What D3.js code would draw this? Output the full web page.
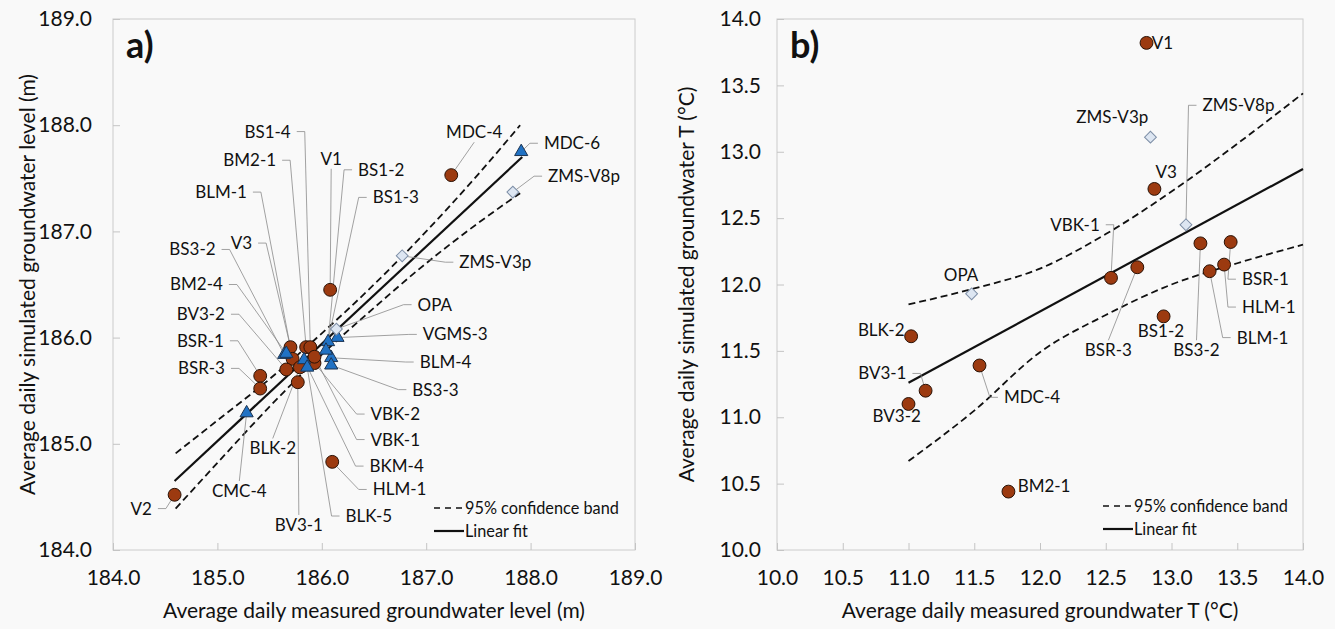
<!DOCTYPE html>
<html>
<head>
<meta charset="utf-8">
<script src="https://cdn.jsdelivr.net/npm/d3@7"></script>
<style>
  body { margin: 0; background: #f9f9f9; }
  svg { display: block; font-family: Lato, "Open Sans", sans-serif; }
</style>
</head>
<body>
<svg id="chart" width="1335" height="629"></svg>
<script>
// ---- panel a: groundwater level ----
const wellsA = ["MDC-4","V1","HLM-1","V2","BSR-1","BSR-3","V3","BM2-1","BS1-4","BLM-1","BV3-2","BLK-2","BV3-1","VBK-2","VBK-1",
                "MDC-6","VGMS-3","BLM-4","BS3-3","BS1-2","BS1-3","BS3-2","BKM-4","BLK-5","CMC-4","BM2-4",
                "ZMS-V3p","ZMS-V8p","OPA"];
const typeA = ["c","c","c","c","c","c","c","c","c","c","c","c","c","c","c",
               "t","t","t","t","t","t","t","t","t","t","t",
               "d","d","d"];
const measA = [187.24,186.08,186.10,184.59,185.41,185.41,185.70,185.85,185.89,185.72,185.66,185.79,185.77,185.93,185.93,
               187.91,186.15,186.09,186.09,186.06,186.04,185.64,185.83,185.86,185.28,185.66,
               186.77,187.83,186.14];
const simA  = [187.53,186.45,184.83,184.52,185.64,185.52,185.91,185.91,185.91,185.80,185.70,185.72,185.58,185.76,185.82,
               187.75,186.00,185.81,185.74,185.96,185.88,185.84,185.79,185.72,185.29,185.85,
               186.77,187.37,186.08];
const fitXA = [184.59, 187.92];
const fitYA = [184.65, 187.70];
const bandXA  = [184.6, 185.0, 185.5, 186.0, 186.5, 187.0, 187.5, 187.9];
const bandUpA = [184.91,185.22,185.61,186.04,186.50,187.00,187.54,188.00];
const bandLoA = [184.39,184.82,185.35,185.84,186.28,186.70,187.08,187.36];
const ticksA = [184,185,186,187,188,189];

// ---- panel b: groundwater temperature ----
const wellsB = ["V1","ZMS-V3p","V3","ZMS-V8p","BS3-2","BSR-1","HLM-1","BLM-1","BSR-3","VBK-1","BS1-2","OPA","BLK-2","MDC-4","BV3-1","BV3-2","BM2-1"];
const typeB  = ["c","d","c","d","c","c","c","c","c","c","c","d","c","c","c","c","c"];
const measB  = [12.81,12.84,12.87,13.11,13.22,13.45,13.40,13.29,12.74,12.54,12.94,11.48,11.02,11.54,11.13,11.00,11.76];
const simB   = [13.82,13.11,12.72,12.45,12.31,12.32,12.15,12.10,12.13,12.05,11.76,11.93,11.61,11.39,11.20,11.10,10.44];
const fitXB = [11.0, 14.0];
const fitYB = [11.26, 12.87];
const bandXB  = [11.0, 11.5, 12.0, 12.5, 13.0, 13.5, 14.0];
const bandUpB = [11.85,11.97,12.12,12.38,12.70,13.06,13.44];
const bandLoB = [10.67,11.05,11.49,11.77,12.00,12.16,12.30];
const ticksB = [10,10.5,11,11.5,12,12.5,13,13.5,14];

// label placement (data units): [x, y, side, has leader]
const labelPosA = [
  [187.46,187.84,"T",1],[186.09,187.59,"T",1],[186.43,184.57,"R",1],[184.43,184.39,"L",1],[185.12,185.97,"L",1],
  [185.13,185.71,"L",1],[185.39,186.89,"L",1],[185.62,187.67,"L",1],[185.76,187.94,"L",1],[185.34,187.37,"L",1],
  [185.13,186.22,"L",1],[185.53,185.05,"B",1],[185.78,184.33,"B",1],[186.41,185.28,"R",1],[186.41,185.04,"R",1],
  [188.07,187.83,"R",1],[186.91,186.03,"R",1],[186.88,185.77,"R",1],[186.81,185.51,"R",1],[186.29,187.58,"R",1],
  [186.43,187.32,"R",1],[185.04,186.83,"L",1],[186.40,184.79,"R",1],[186.17,184.32,"R",1],[185.21,184.65,"B",1],
  [185.11,186.50,"L",1],[187.26,186.71,"R",1],[188.11,187.52,"R",1],[186.86,186.31,"R",1]
];
const labelPosB = [
  [12.85,13.82,"R",0],[12.55,13.26,"C",0],[12.96,12.85,"C",0],[13.19,13.35,"R",1],[13.19,11.58,"B",1],
  [13.49,12.04,"R",1],[13.49,11.83,"R",1],[13.45,11.60,"R",1],[12.52,11.58,"B",1],[12.50,12.45,"L",1],
  [12.92,11.65,"C",0],[11.40,12.07,"C",0],[10.97,11.66,"L",0],[11.68,11.15,"R",1],[11.03,11.33,"L",1],
  [10.91,11.01,"C",0],[11.83,10.48,"R",0]
];

const svg = d3.select("#chart");
svg.append("rect").attr("width",1335).attr("height",629).attr("fill","#f9f9f9");

function drawPanel(o) {
  const x = d3.scaleLinear().domain(o.xDomain).range([o.left, o.right]);
  const y = d3.scaleLinear().domain(o.yDomain).range([o.bottom, o.top]);
  const g = svg.append("g");
  const fmt = d3.format(".1f");

  g.append("rect")
    .attr("x", o.left).attr("y", o.top)
    .attr("width", o.right - o.left).attr("height", o.bottom - o.top)
    .attr("fill", "#f9f9f9").attr("stroke", "#cccccc");

  const xAxis = g.append("g").attr("transform", `translate(0,${o.bottom})`)
    .call(d3.axisBottom(x).tickValues(o.ticksX).tickFormat(fmt).tickSizeInner(-7).tickSizeOuter(0).tickPadding(20));
  const yAxis = g.append("g").attr("transform", `translate(${o.left},0)`)
    .call(d3.axisLeft(y).tickValues(o.ticksY).tickFormat(fmt).tickSizeInner(-7).tickSizeOuter(0).tickPadding(o.yPad));
  [xAxis, yAxis].forEach(a => {
    a.select(".domain").remove();
    a.selectAll(".tick line").attr("stroke", "#c4c4c4");
    a.selectAll(".tick text").attr("fill", "#111").style("font-size", "21px").style("font-family", "Lato");
  });

  // axis titles
  g.append("text").attr("x", (o.left + o.right) / 2).attr("y", 618)
    .attr("text-anchor", "middle").style("font-size", "21px").attr("fill", "#111").text(o.xTitle);
  g.append("text").attr("transform", `translate(${o.yTitleX},${(o.top + o.bottom) / 2}) rotate(-90)`)
    .attr("text-anchor", "middle").style("font-size", "21px").attr("fill", "#111").text(o.yTitle);

  // panel letter
  g.append("text").attr("x", o.left + 13).attr("y", 58)
    .style("font-size", "36px").style("font-weight", "bold").attr("fill", "#111").text(o.letter);

  // confidence band and fit
  const line = d3.line().x(d => x(d[0])).y(d => y(d[1])).curve(d3.curveMonotoneX);
  [o.bandUp, o.bandLo].forEach(b => {
    g.append("path").datum(o.bandX.map((v, i) => [v, b[i]]))
      .attr("d", line).attr("fill", "none").attr("stroke", "#111")
      .attr("stroke-width", 1.8).attr("stroke-dasharray", "7,4");
  });
  g.append("path").datum(o.fitX.map((v, i) => [v, o.fitY[i]]))
    .attr("d", d3.line().x(d => x(d[0])).y(d => y(d[1])))
    .attr("fill", "none").attr("stroke", "#111").attr("stroke-width", 2.2);

  // labels and leader lines
  const pts = o.names.map((n, i) => ({ n, px: x(o.meas[i]), py: y(o.sim[i]), t: o.types[i], lab: o.labels[i] }));
  pts.forEach(p => {
    const [lx, ly, side, leader] = p.lab;
    const X = x(lx), Y = y(ly);
    const gap = leader ? 6 : 0;
    const t = g.append("text").style("font-size", "17px").attr("fill", "#111").text(p.n);
    if (side === "L") t.attr("x", X - gap).attr("y", Y).attr("dy", "0.35em").attr("text-anchor", "end");
    if (side === "R") t.attr("x", X + gap).attr("y", Y).attr("dy", "0.35em").attr("text-anchor", "start");
    if (side === "T") t.attr("x", X).attr("y", Y - 4).attr("text-anchor", "middle");
    if (side === "B") t.attr("x", X).attr("y", Y + 3).attr("dy", "0.75em").attr("text-anchor", "middle");
    if (side === "C") t.attr("x", X).attr("y", Y).attr("dy", "0.35em").attr("text-anchor", "middle");
    if (leader) {
      let path = [[X, Y]];
      if (side === "L") path.push([X + 8, Y]);
      if (side === "R") path.push([X - 8, Y]);
      path.push([p.px, p.py]);
      g.append("path").attr("d", d3.line()(path)).attr("fill", "none")
        .attr("stroke", "#8a8a8a").attr("stroke-width", 0.8);
    }
  });

  // markers
  const sym = { c: d3.symbol(d3.symbolCircle, 130), t: d3.symbol(d3.symbolTriangle, 75), d: d3.symbol(d3.symbolSquare, 70) };
  const fill = { c: "#9c3a10", t: "#2172c4", d: "#dde6f2" };
  const stroke = { c: "#2a1206", t: "#1c3350", d: "#7d8ea6" };
  pts.forEach(p => {
    g.append("path").attr("d", sym[p.t]())
      .attr("transform", `translate(${p.px},${p.py})` + (p.t === "d" ? " rotate(45)" : ""))
      .attr("fill", fill[p.t]).attr("stroke", stroke[p.t]).attr("stroke-width", 1);
  });

  // legend
  const lg = g.append("g").attr("transform", `translate(${o.legX},${o.legY})`);
  lg.append("line").attr("x1", 0).attr("x2", 30).attr("y1", 0).attr("y2", 0)
    .attr("stroke", "#111").attr("stroke-width", 1.6).attr("stroke-dasharray", "6,5");
  lg.append("text").attr("x", 31).attr("y", 0).attr("dy", "0.35em").style("font-size", "16.3px").attr("fill", "#111").text("95% confidence band");
  lg.append("line").attr("x1", 0).attr("x2", 30).attr("y1", 23).attr("y2", 23)
    .attr("stroke", "#111").attr("stroke-width", 2.2);
  lg.append("text").attr("x", 31).attr("y", 23).attr("dy", "0.35em").style("font-size", "16.3px").attr("fill", "#111").text("Linear fit");
}

drawPanel({
  left: 113, right: 635, top: 19, bottom: 550, yPad: 21, yTitleX: 35,
  xDomain: [184, 189], yDomain: [184, 189], ticksX: ticksA, ticksY: ticksA,
  xTitle: "Average daily measured groundwater level (m)",
  yTitle: "Average daily simulated groundwater level (m)", letter: "a)",
  names: wellsA, types: typeA, meas: measA, sim: simA, labels: labelPosA,
  fitX: fitXA, fitY: fitYA, bandX: bandXA, bandUp: bandUpA, bandLo: bandLoA,
  legX: 434, legY: 508
});

drawPanel({
  left: 777, right: 1303, top: 19, bottom: 550, yPad: 16, yTitleX: 694,
  xDomain: [10, 14], yDomain: [10, 14], ticksX: ticksB, ticksY: ticksB,
  xTitle: "Average daily measured groundwater T (°C)",
  yTitle: "Average daily simulated groundwater T (°C)", letter: "b)",
  names: wellsB, types: typeB, meas: measB, sim: simB, labels: labelPosB,
  fitX: fitXB, fitY: fitYB, bandX: bandXB, bandUp: bandUpB, bandLo: bandLoB,
  legX: 1103, legY: 506
});
</script>
</body>
</html>
